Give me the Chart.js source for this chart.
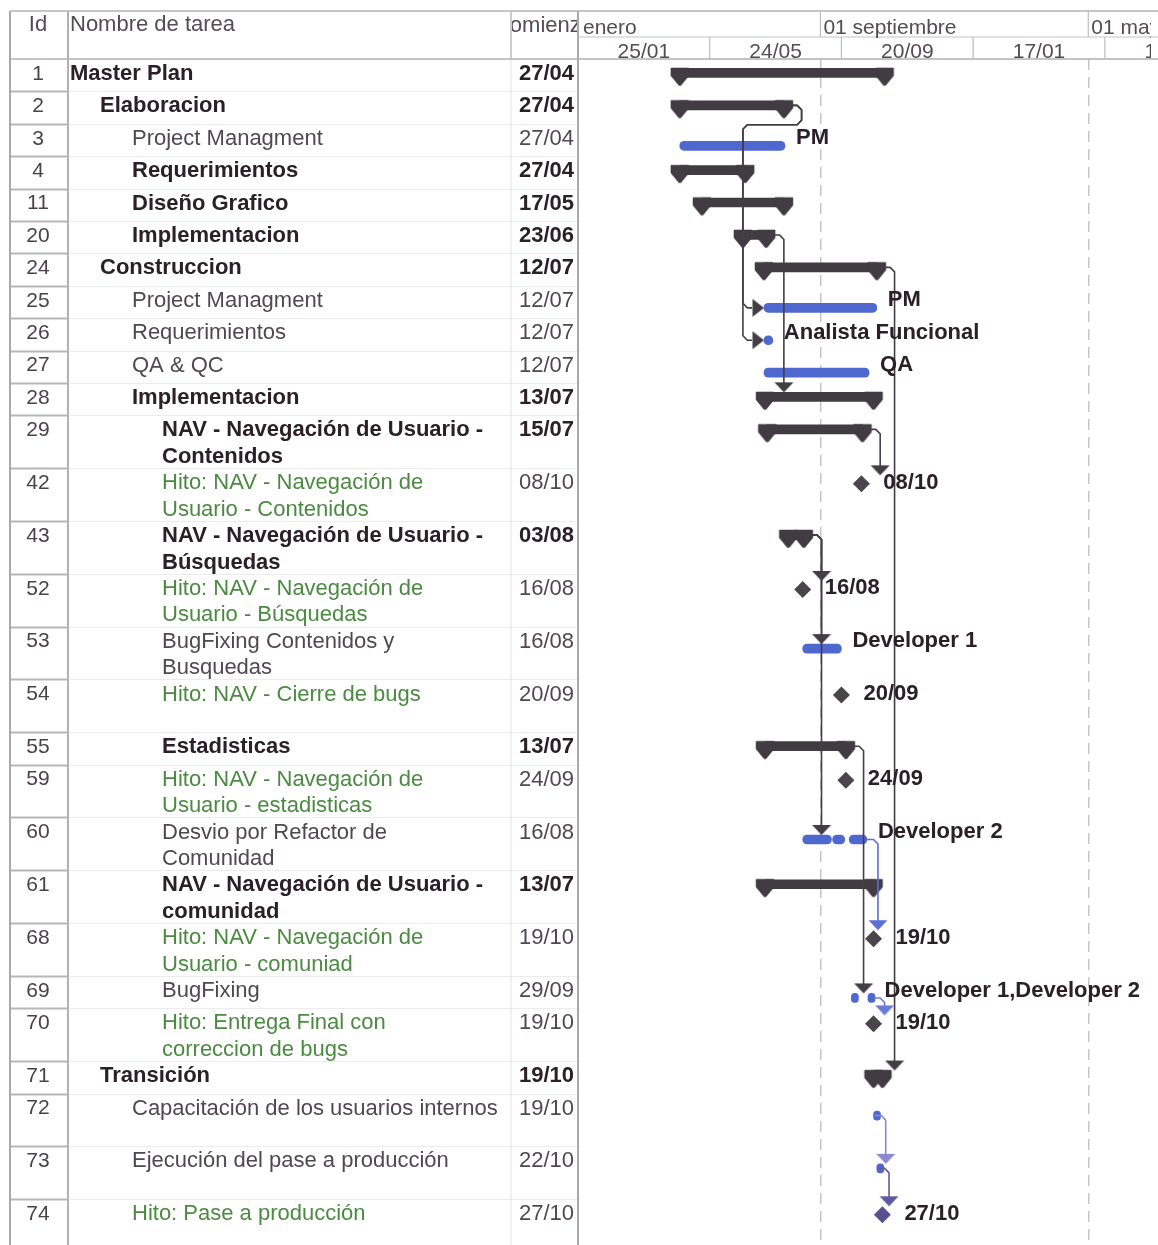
<!DOCTYPE html>
<html>
<head>
<meta charset="utf-8">
<script src="https://cdn.jsdelivr.net/npm/chart.js@4.4.1/dist/chart.umd.min.js"></script>
<style>
  html, body { margin: 0; padding: 0; background: #ffffff; overflow: hidden; }
  #wrap { width: 1158px; height: 1245px; position: relative; }
</style>
</head>
<body>
<div id="wrap"><canvas id="c" width="1158" height="1245"></canvas></div>
<script>
// ===================== DATA =====================
const taskIds = [1, 2, 3, 4, 11, 20, 24, 25, 26, 27, 28, 29, 42, 43, 52, 53, 54, 55, 59, 60, 61, 68, 69, 70, 71, 72, 73, 74];
const taskNames = [
  'Master Plan', 'Elaboracion', 'Project Managment', 'Requerimientos', 'Diseño Grafico', 'Implementacion',
  'Construccion', 'Project Managment', 'Requerimientos', 'QA & QC', 'Implementacion',
  'NAV - Navegación de Usuario -\nContenidos',
  'Hito: NAV - Navegación de\nUsuario - Contenidos',
  'NAV - Navegación de Usuario -\nBúsquedas',
  'Hito: NAV - Navegación de\nUsuario - Búsquedas',
  'BugFixing Contenidos y\nBusquedas',
  'Hito: NAV - Cierre de bugs',
  'Estadisticas',
  'Hito: NAV - Navegación de\nUsuario - estadisticas',
  'Desvio por Refactor de\nComunidad',
  'NAV - Navegación de Usuario -\ncomunidad',
  'Hito: NAV - Navegación de\nUsuario - comuniad',
  'BugFixing',
  'Hito: Entrega Final con\ncorreccion de bugs',
  'Transición',
  'Capacitación de los usuarios internos',
  'Ejecución del pase a producción',
  'Hito: Pase a producción'
];
const taskLevels = [1, 2, 3, 3, 3, 3, 2, 3, 3, 3, 3, 4, 4, 4, 4, 4, 4, 4, 4, 4, 4, 4, 4, 4, 2, 3, 3, 3];
// S = summary, T = task, M = milestone
const taskKinds = ['S', 'S', 'T', 'S', 'S', 'S', 'S', 'T', 'T', 'T', 'S', 'S', 'M', 'S', 'M', 'T', 'M', 'S', 'M', 'T', 'S', 'M', 'T', 'M', 'S', 'T', 'T', 'M'];
const startDates = ['27/04', '27/04', '27/04', '27/04', '17/05', '23/06', '12/07', '12/07', '12/07', '12/07', '13/07', '15/07', '08/10', '03/08', '16/08', '16/08', '20/09', '13/07', '24/09', '16/08', '13/07', '19/10', '29/09', '19/10', '19/10', '19/10', '22/10', '27/10'];
const endDates = ['29/10', '30/07', '31/07', '25/06', '30/07', '14/07', '22/10', '22/10', '20/07', '15/10', '19/10', '09/10', null, '17/08', null, '20/09', null, '24/09', null, '13/10', '19/10', null, '19/10', null, '27/10', '20/10', '23/10', null];
const splitSegments = {
  60: [['16/08', '11/09'], ['12/09', '23/09'], ['27/09', '13/10']],
  69: [['29/09', '30/09'], ['14/10', '19/10']]
};
const rowLines = [1, 1, 1, 1, 1, 1, 1, 1, 1, 1, 1, 2, 2, 2, 2, 2, 2, 1, 2, 2, 2, 2, 1, 2, 1, 2, 2, 2];
const barLabels = ['', '', 'PM', '', '', '', '', 'PM', 'Analista Funcional', 'QA', '', '', '08/10', '', '16/08', 'Developer 1', '20/09', '', '24/09', 'Developer 2', '', '19/10', 'Developer 1,Developer 2', '19/10', '', '', '', '27/10'];
const linkFrom = [2, 2, 20, 24, 29, 43, 43, 43, 55, 60, 69, 72, 73];
const linkTo = [25, 26, 28, 71, 42, 52, 53, 60, 69, 68, 70, 73, 74];
const linkRoute = ['back', 'back', 'down', 'down', 'down', 'down', 'down', 'down', 'down', 'down', 'down', 'down', 'down'];
const tickDates = ['25/01/2010', '24/05/2010', '20/09/2010', '17/01/2011', '16/05/2011'];
const tickLabels = ['25/01', '24/05', '20/09', '17/01', '16/05'];
const periodDates = ['01/01/2010', '01/09/2010', '01/05/2011'];
const periodLabels = ['enero', '01 septiembre', '01 mayo'];
const headerLabels = ['Id', 'Nombre de tarea', 'Comienzo'];

// ===================== STYLE / LAYOUT =====================
const FONT = '"Liberation Sans", Arial, sans-serif';
const TXT_DARK = '#2a2026', TXT_GRAY = '#51484f', TXT_GREEN = '#4b8a41', TXT_HEAD = '#564b52';
const SUMMARY_COLOR = '#413c42', TASK_COLOR = '#4f68d0', MILE_COLOR = '#4a454b';
const LINK_COLOR = '#433e44';
const LINK_COLORS = { 60: '#5b6fd6', 69: '#6a7ada', 72: '#8d89cc', 73: '#5e5a9e' };
const MILE_COLORS = { 74: '#56518f' };
const DOUBLE_ROW = 1.63;
const Y_MAX = (1245 - 59) / 32.4;
const X_MAX = 524;
const SUMMARY_Y = 0.43, TASK_Y = 0.68, MILE_Y = 0.48, LABEL_Y = 0.45;
const TOP_Y = { S: 0.29, T: 0.54, M: 0.22 };
const OUT_DAYS = { S: 16, T: 10, M: 10 };
const BACK_DAYS = 19, ARROW_R_DAYS = 10.8, ARROW_D_UNITS = 0.31;
const CORNER_DAYS = 4, CORNER_UNITS = 0.14;
const INDENT = [0, 70, 100, 132, 162];

// ===================== HELPERS =====================
const BASE = Date.UTC(2010, 0, 25);
function dayOf(s) {
  const p = s.split('/').map(Number);
  const yr = p.length > 2 ? p[2] : 2010;
  return (Date.UTC(yr, p[1] - 1, p[0]) - BASE) / 86400000;
}
const rowHeights = rowLines.map(n => n === 2 ? DOUBLE_ROW : 1);
const rowTops = [];
{ let acc = 0; rowHeights.forEach(h => { rowTops.push(acc); acc += h; }); }
const idx = id => taskIds.indexOf(id);
function markY(i) {
  const k = taskKinds[i];
  return rowTops[i] + (k === 'S' ? SUMMARY_Y : k === 'T' ? TASK_Y : MILE_Y);
}
function endDay(i) { return dayOf(endDates[i] || startDates[i]); }

function makeCanvas(w, h, draw) {
  const c = document.createElement('canvas'); c.width = w; c.height = h;
  draw(c.getContext('2d')); return c;
}
const capImg = makeCanvas(22, 40, g => {
  g.fillStyle = SUMMARY_COLOR; g.strokeStyle = SUMMARY_COLOR; g.lineJoin = 'round'; g.lineWidth = 1.5;
  g.beginPath();
  g.moveTo(2.5, 15.5); g.lineTo(19.5, 15.5); g.lineTo(19.5, 22.5); g.lineTo(11.7, 32); g.lineTo(10.3, 32); g.lineTo(2.5, 22.5);
  g.closePath(); g.fill(); g.stroke();
});
const arrowCache = {};
function arrowImg(color, dir) {
  const key = color + dir;
  if (!arrowCache[key]) {
    arrowCache[key] = dir === 'down'
      ? makeCanvas(20, 12, g => { g.fillStyle = color; g.beginPath(); g.moveTo(0.5, 1); g.lineTo(19.5, 1); g.lineTo(10, 11); g.closePath(); g.fill(); })
      : makeCanvas(13, 20, g => { g.fillStyle = color; g.beginPath(); g.moveTo(1, 1); g.lineTo(12.5, 10); g.lineTo(1, 19); g.closePath(); g.fill(); });
  }
  return arrowCache[key];
}

// ===================== DATASETS =====================
const summaryData = [], taskData = [], capData = [], mileData = [];
taskIds.forEach((id, i) => {
  const k = taskKinds[i];
  if (k === 'S') {
    const s = dayOf(startDates[i]), e = endDay(i), y = markY(i);
    summaryData.push({ x: [s, e], y });
    capData.push({ x: s, y }, { x: e, y });
  } else if (k === 'T') {
    const segs = splitSegments[id] || [[startDates[i], endDates[i]]];
    segs.forEach(sg => taskData.push({ x: [dayOf(sg[0]), dayOf(sg[1])], y: markY(i) }));
  } else {
    mileData.push({ x: dayOf(startDates[i]), y: markY(i), id });
  }
});

const linkDatasets = [], arrowData = [];
linkFrom.forEach((fromId, n) => {
  const a = idx(fromId), b = idx(linkTo[n]);
  const color = LINK_COLORS[fromId] || LINK_COLOR;
  const eA = endDay(a), yA = markY(a), xV = eA + OUT_DAYS[taskKinds[a]];
  let pts;
  if (linkRoute[n] === 'down') {
    const tip = rowTops[b] + TOP_Y[taskKinds[b]];
    pts = [{ x: eA, y: yA }, { x: xV - CORNER_DAYS, y: yA }, { x: xV, y: yA + CORNER_UNITS },
           { x: xV, y: tip - ARROW_D_UNITS * 0.8 }];
    arrowData.push({ x: xV, y: tip - ARROW_D_UNITS / 2, img: arrowImg(color, 'down') });
  } else {
    const sB = dayOf(startDates[b]), yB = markY(b);
    const yMid = rowTops[a] + rowHeights[a] + 0.03;
    const xBack = sB - BACK_DAYS;
    pts = [{ x: eA, y: yA }, { x: xV - CORNER_DAYS, y: yA }, { x: xV, y: yA + CORNER_UNITS },
           { x: xV, y: yMid - CORNER_UNITS }, { x: xV - CORNER_DAYS, y: yMid },
           { x: xBack + CORNER_DAYS, y: yMid }, { x: xBack, y: yMid + CORNER_UNITS },
           { x: xBack, y: yB - CORNER_UNITS }, { x: xBack + CORNER_DAYS, y: yB }, { x: sB - ARROW_R_DAYS, y: yB }];
    arrowData.push({ x: sB - ARROW_R_DAYS / 2, y: yB, img: arrowImg(color, 'right') });
  }
  linkDatasets.push({
    type: 'line', label: 'link ' + fromId + '-' + linkTo[n], data: pts,
    borderColor: color, borderWidth: 1.6, pointRadius: 0, tension: 0, fill: false,
    borderJoinStyle: 'round', order: 1, indexAxis: 'x'
  });
});

// ===================== PLUGINS =====================
function drawTable(chart) {
  const { ctx, chartArea: ca, scales: { x: xs, y: ys } } = chart;
  const L = 10, C1 = 68, C2 = 511, C3 = ca.left, R = chart.width;
  const T = 11, M = 37, B = ca.top, BOT = chart.height;
  ctx.save();
  rowTops.forEach((t, i) => {
    if (i === 0) return;
    const yy = Math.round(ys.getPixelForValue(t)) + 0.5;
    ctx.strokeStyle = '#ececec'; ctx.lineWidth = 1;
    ctx.beginPath(); ctx.moveTo(C1, yy); ctx.lineTo(C3, yy); ctx.stroke();
    ctx.strokeStyle = '#b7b7b7'; ctx.lineWidth = 2;
    ctx.beginPath(); ctx.moveTo(L, yy); ctx.lineTo(C1, yy); ctx.stroke();
  });
  const vline = (x, y0, y1, c, w) => { ctx.strokeStyle = c; ctx.lineWidth = w; ctx.beginPath(); ctx.moveTo(x, y0); ctx.lineTo(x, y1); ctx.stroke(); };
  vline(L, T, BOT, '#a9a9a9', 2);
  vline(C1, T, BOT, '#b2b2b2', 2);
  vline(C2, T, B, '#bdbdbd', 1.5);
  vline(C2, B, BOT, '#e2e2e2', 1);
  vline(C3, T, BOT, '#a9a9a9', 2);
  const hline = (x0, x1, y, c, w) => { ctx.strokeStyle = c; ctx.lineWidth = w; ctx.beginPath(); ctx.moveTo(x0, y); ctx.lineTo(x1, y); ctx.stroke(); };
  hline(L, R, T, '#b3b3b3', 1.5);
  hline(C3, R, M, '#c3c3c3', 1.2);
  hline(L, R, B, '#b0b0b0', 1.5);
  periodDates.forEach(d => {
    const px = xs.getPixelForValue(dayOf(d));
    if (px > ca.left + 1 && px < R) vline(px, T, M, '#bdbdbd', 1.2);
  });
  tickDates.forEach(d => {
    const px = xs.getPixelForValue(dayOf(d));
    if (px > ca.left + 1 && px < R) vline(px, M, B, '#bdbdbd', 1.2);
  });
  ctx.textBaseline = 'middle';
  ctx.fillStyle = TXT_HEAD;
  ctx.font = '22px ' + FONT;
  ctx.textAlign = 'center'; ctx.fillText(headerLabels[0], 38, 25);
  ctx.textAlign = 'left'; ctx.fillText(headerLabels[1], 70, 25);
  ctx.save(); ctx.beginPath(); ctx.rect(C2 + 1, T, C3 - C2 - 2, B - T); ctx.clip();
  ctx.textAlign = 'center'; ctx.fillText(headerLabels[2], (C2 + C3) / 2 - 1, 26);
  ctx.restore();
  ctx.save(); ctx.beginPath(); ctx.rect(ca.left + 1, T, R - ca.left - 8, B - T); ctx.clip();
  ctx.font = '21px ' + FONT; ctx.textAlign = 'left';
  periodDates.forEach((d, i) => {
    const px = Math.max(xs.getPixelForValue(dayOf(d)) + 3, ca.left + 5);
    ctx.fillText(periodLabels[i], px, 28);
  });
  ctx.textAlign = 'center';
  tickDates.forEach((d, i) => {
    const s = dayOf(d);
    const next = i + 1 < tickDates.length ? dayOf(tickDates[i + 1]) : s + 119;
    ctx.fillText(tickLabels[i], xs.getPixelForValue((s + next) / 2), 52);
  });
  ctx.restore();
  taskIds.forEach((id, i) => {
    const top = ys.getPixelForValue(rowTops[i]);
    const k = taskKinds[i];
    const y1 = top + 15;
    ctx.textAlign = 'center'; ctx.fillStyle = '#4a4248'; ctx.font = '21px ' + FONT;
    ctx.fillText(String(id), 38, y1);
    ctx.textAlign = 'left';
    ctx.fillStyle = k === 'S' ? TXT_DARK : k === 'M' ? TXT_GREEN : TXT_GRAY;
    ctx.font = (k === 'S' ? 'bold ' : '') + '22px ' + FONT;
    taskNames[i].split('\n').forEach((ln, j) => ctx.fillText(ln, INDENT[taskLevels[i]], y1 + j * 26.5));
    ctx.textAlign = 'right';
    ctx.fillStyle = k === 'S' ? TXT_DARK : TXT_GRAY;
    ctx.fillText(startDates[i], C3 - 4, y1);
  });
  ctx.restore();
}

const ganttTable = {
  id: 'ganttTable',
  beforeDraw(chart) {
    const { ctx } = chart;
    ctx.save(); ctx.fillStyle = '#ffffff'; ctx.fillRect(0, 0, chart.width, chart.height); ctx.restore();
  },
  afterDraw(chart) { drawTable(chart); }
};

const barTexts = {
  id: 'barTexts',
  afterDatasetsDraw(chart) {
    const { ctx, scales: { x: xs, y: ys } } = chart;
    ctx.save();
    ctx.font = 'bold 22px ' + FONT; ctx.fillStyle = TXT_DARK;
    ctx.textAlign = 'left'; ctx.textBaseline = 'middle';
    taskIds.forEach((id, i) => {
      if (!barLabels[i]) return;
      const k = taskKinds[i];
      const y = ys.getPixelForValue(rowTops[i] + LABEL_Y);
      let x;
      if (k === 'M') x = xs.getPixelForValue(dayOf(startDates[i])) + 22;
      else x = Math.max(xs.getPixelForValue(endDay(i)), xs.getPixelForValue(dayOf(startDates[i])) + 7) + 11;
      ctx.fillText(barLabels[i], x, y);
    });
    ctx.restore();
  }
};

// ===================== CHART =====================
new Chart(document.getElementById('c'), {
  type: 'bar',
  data: {
    datasets: [
      { type: 'scatter', label: 'flechas', data: arrowData, pointStyle: c => (c.raw && c.raw.img) || 'circle',
        pointRadius: 3, order: 0, indexAxis: 'x' },
      ...linkDatasets,
      { type: 'scatter', label: 'hitos', data: mileData, pointStyle: 'rectRot', pointRadius: 8.5,
        backgroundColor: c => (c.raw && MILE_COLORS[c.raw.id]) || MILE_COLOR, borderWidth: 0, order: 2, indexAxis: 'x' },
      { type: 'scatter', label: 'extremos', data: capData, pointStyle: capImg, pointRadius: 3, order: 3, indexAxis: 'x' },
      { type: 'bar', label: 'resumen', data: summaryData, backgroundColor: SUMMARY_COLOR, barThickness: 9,
        grouped: false, borderSkipped: false, order: 4 },
      { type: 'bar', label: 'tareas', data: taskData, backgroundColor: TASK_COLOR, barThickness: 9,
        grouped: false, borderRadius: 4.5, borderSkipped: false, minBarLength: 7, order: 5 }
    ]
  },
  options: {
    responsive: false,
    animation: false,
    devicePixelRatio: 1,
    indexAxis: 'y',
    layout: { autoPadding: false, padding: { left: 578, top: 59, right: 0, bottom: 0 } },
    plugins: { legend: { display: false }, tooltip: { enabled: false } },
    events: [],
    scales: {
      x: {
        type: 'linear', position: 'top', min: 0, max: X_MAX, offset: false,
        afterBuildTicks: s => { s.ticks = periodDates.map(d => ({ value: dayOf(d) })).filter(t => t.value > 0 && t.value < X_MAX); },
        afterFit: s => { s.height = 0; },
        ticks: { display: false },
        grid: { color: '#c6c6c6', lineWidth: 1.5, drawTicks: false, offset: false },
        border: { display: false, dash: [11, 7] }
      },
      y: {
        type: 'linear', reverse: true, min: 0, max: Y_MAX, offset: false, display: false,
        grid: { offset: false }
      }
    }
  },
  plugins: [ganttTable, barTexts]
});
</script>
</body>
</html>
